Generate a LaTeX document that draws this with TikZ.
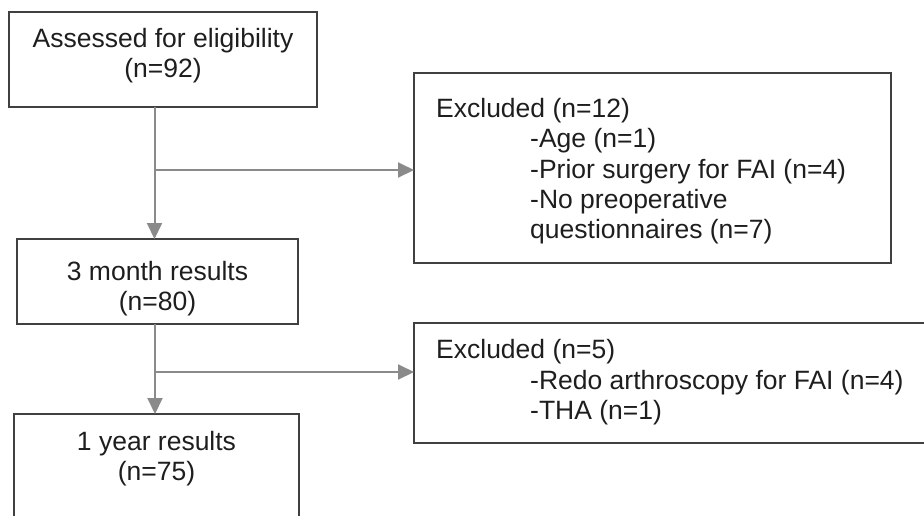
\documentclass[tikz,border=0pt]{standalone}
\usepackage{fontspec}
\setmainfont{Liberation Sans}
\usetikzlibrary{arrows.meta}
\definecolor{boxline}{HTML}{404040}
\definecolor{conn}{HTML}{8A8A8A}
\definecolor{txt}{HTML}{1E1E1E}
\begin{document}
\begin{tikzpicture}[x=1pt,y=-1pt,
  boxstyle/.style={draw=boxline,line width=1.3pt,rectangle},
  lbl/.style={inner sep=0pt,text=txt,font=\fontsize{26.5}{30}\selectfont,anchor=base},
  lblw/.style={lbl,anchor=base west},
  conline/.style={draw=conn,line width=2pt},
  conarrow/.style={conline,-{Triangle[length=16pt,width=15pt]}}]
\useasboundingbox (0,0) rectangle (924,515);
\clip (0,0) rectangle (924,515);
% boxes
\draw[boxstyle] (9,12) rectangle (317,107);
\coordinate (b1s) at (154.5,107);
\coordinate (b3n) at (154.5,239);
\draw[boxstyle] (17,239) rectangle (298,324);
\coordinate (b3s) at (155,324);
\coordinate (b4n) at (155,414);
\draw[boxstyle] (14,414) rectangle (299,540);
\draw[boxstyle] (414,73) rectangle (891,263);
\coordinate (e1w) at (414,170);
\draw[boxstyle] (414,323) rectangle (940,443);
\coordinate (e2w) at (414,372);
% texts
\node[lbl] (t1a) at (163,47) {Assessed for eligibility};
\node[lbl] (t1b) at (163,77) {(n=92)};
\node[lbl] (t3a) at (157.5,280) {3 month results};
\node[lbl] (t3b) at (157.5,310) {(n=80)};
\node[lbl] (t4a) at (156.5,450) {1 year results};
\node[lbl] (t4b) at (156.5,480) {(n=75)};
\node[lblw] (e1a) at (436,117) {Excluded (n=12)};
\node[lblw] (e1b) at (530,147) {-Age (n=1)};
\node[lblw] (e1c) at (530,178) {-Prior surgery for FAI (n=4)};
\node[lblw] (e1d) at (530,208) {-No preoperative};
\node[lblw] (e1e) at (530,238) {questionnaires (n=7)};
\node[lblw] (e2a) at (436,358) {Excluded (n=5)};
\node[lblw] (e2b) at (530,389) {-Redo arthroscopy for FAI (n=4)};
\node[lblw] (e2c) at (530,419) {-THA (n=1)};
% connectors
\draw[conarrow] (b1s) -- (b3n);
\coordinate (j1) at (b1s |- e1w);
\draw[conarrow] (j1) -- (e1w);
\draw[conarrow] (b3s) -- (b4n);
\coordinate (j2) at (b3s |- e2w);
\draw[conarrow] (j2) -- (e2w);
\end{tikzpicture}
\end{document}
